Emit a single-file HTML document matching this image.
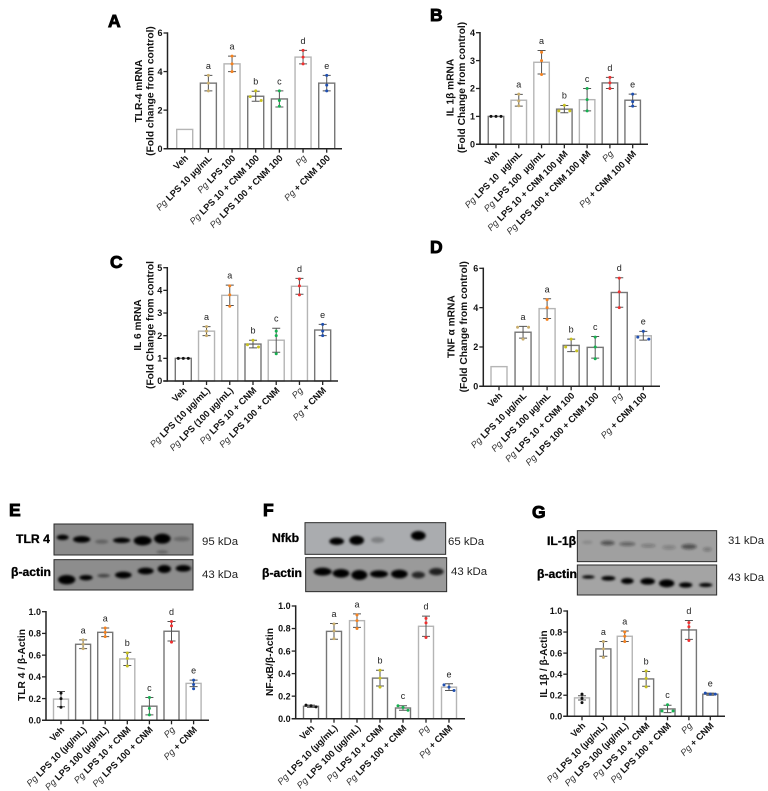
<!DOCTYPE html>
<html lang="en">
<head>
<meta charset="utf-8">
<title>mRNA and protein expression panels</title>
<style>
html,body{margin:0;padding:0;background:#fff;}
body{width:768px;height:791px;overflow:hidden;}
svg{display:block;font-family:"Liberation Sans",Arial,sans-serif;filter:blur(.3px);}
.panel-letter{font-size:17.5px;font-weight:700;fill:#000;stroke:#000;stroke-width:.9;}
.blot-label{font-size:12.2px;font-weight:700;fill:#000;stroke:#000;stroke-width:.3;}
.kda{font-size:11.4px;fill:#222;}
.tick-y{font-size:9px;font-weight:700;fill:#111;}
.tick-x{font-size:9.2px;font-weight:700;fill:#111;}
.tick-x .pg{font-style:italic;font-weight:400;fill:#333;}
.title{font-size:10.2px;font-weight:700;fill:#111;}
.sig{font-size:9px;fill:#222;}
</style>
</head>
<body>
<svg id="figure" width="768" height="791" viewBox="0 0 768 791" xmlns="http://www.w3.org/2000/svg">
<defs>
<filter id="b3" x="-50%" y="-80%" width="200%" height="260%"><feGaussianBlur stdDeviation="4"/></filter>
</defs>
<rect width="768" height="791" fill="#fff"/>

<text class="panel-letter" x="108" y="27">A</text>
<text class="panel-letter" x="430" y="21">B</text>
<text class="panel-letter" x="110" y="268">C</text>
<text class="panel-letter" x="430" y="253">D</text>
<text class="panel-letter" x="9" y="516">E</text>
<text class="panel-letter" x="263" y="516">F</text>
<text class="panel-letter" x="532" y="518">G</text>

<!-- Western blot E -->
<g transform="translate(0,490) scale(.33333)">
  <rect x="162" y="102" width="417" height="93" fill="#8b8b8b" stroke="#2a2a2a" stroke-width="3"/>
  <g fill="#060606" filter="url(#b3)">
    <ellipse cx="188" cy="142" rx="18" ry="8"/><ellipse cx="245" cy="148" rx="26" ry="10"/>
    <ellipse cx="305" cy="155" rx="20" ry="6" opacity=".3"/><ellipse cx="365" cy="151" rx="26" ry="8"/>
    <ellipse cx="428" cy="152" rx="27" ry="14"/><ellipse cx="487" cy="146" rx="25" ry="15"/>
    <ellipse cx="545" cy="147" rx="25" ry="7" opacity=".25"/><ellipse cx="487" cy="186" rx="18" ry="5" opacity=".3"/>
  </g>
  <rect x="162" y="209" width="417" height="91" fill="#8d8d8d" stroke="#2a2a2a" stroke-width="3"/>
  <g fill="#060606" filter="url(#b3)">
    <ellipse cx="200" cy="269" rx="26" ry="14"/><ellipse cx="258" cy="263" rx="20" ry="8"/>
    <ellipse cx="311" cy="257" rx="19" ry="5" opacity=".55"/><ellipse cx="370" cy="255" rx="25" ry="10"/>
    <ellipse cx="437" cy="243" rx="24" ry="10"/><ellipse cx="493" cy="237" rx="20" ry="12"/>
    <ellipse cx="550" cy="235" rx="23" ry="10"/>
  </g>
</g>
<text class="blot-label" x="16" y="543">TLR 4</text>
<text class="blot-label" x="11" y="576">β-actin</text>
<text class="kda" x="202" y="545">95 kDa</text>
<text class="kda" x="202" y="578">43 kDa</text>

<!-- Western blot F -->
<g transform="translate(255,490) scale(.33333)">
  <rect x="150" y="98" width="422" height="95" fill="#aaacaf" stroke="#2a2a2a" stroke-width="3"/>
  <g fill="#060606" filter="url(#b3)">
    <ellipse cx="245" cy="154" rx="22" ry="11"/><ellipse cx="305" cy="151" rx="22" ry="14"/>
    <ellipse cx="368" cy="150" rx="20" ry="9" opacity=".25"/><ellipse cx="490" cy="137" rx="22" ry="14"/>
  </g>
  <rect x="152" y="203" width="423" height="102" fill="#9a9a9a" stroke="#2a2a2a" stroke-width="3"/>
  <g fill="#060606" filter="url(#b3)">
    <ellipse cx="203" cy="245" rx="27" ry="12"/><ellipse cx="258" cy="250" rx="25" ry="13"/>
    <ellipse cx="313" cy="255" rx="24" ry="15"/><ellipse cx="372" cy="252" rx="27" ry="11"/>
    <ellipse cx="433" cy="252" rx="25" ry="13"/><ellipse cx="490" cy="255" rx="20" ry="10" opacity=".75"/>
    <ellipse cx="544" cy="245" rx="22" ry="11" opacity=".8"/>
  </g>
</g>
<text class="blot-label" x="272" y="542">Nfkb</text>
<text class="blot-label" x="262" y="577">β-actin</text>
<text class="kda" x="448" y="545">65 kDa</text>
<text class="kda" x="451" y="575">43 kDa</text>

<!-- Western blot G -->
<g transform="translate(510,490) scale(.33333)">
  <rect x="202" y="122" width="418" height="93" fill="#a0a0a0" stroke="#2a2a2a" stroke-width="3"/>
  <g fill="#1a1a1a" filter="url(#b3)">
    <ellipse cx="232" cy="157" rx="16" ry="5" opacity=".15"/><ellipse cx="293" cy="159" rx="21" ry="7" opacity=".55"/>
    <ellipse cx="352" cy="162" rx="24" ry="6" opacity=".45"/><ellipse cx="415" cy="167" rx="22" ry="5" opacity=".3"/>
    <ellipse cx="477" cy="172" rx="20" ry="6" opacity=".25"/><ellipse cx="537" cy="170" rx="23" ry="8" opacity=".55"/>
    <ellipse cx="592" cy="178" rx="13" ry="6" opacity=".3"/>
  </g>
  <rect x="202" y="225" width="418" height="90" fill="#a4a4a4" stroke="#2a2a2a" stroke-width="3"/>
  <g fill="#060606" filter="url(#b3)">
    <ellipse cx="235" cy="261" rx="19" ry="5"/><ellipse cx="295" cy="265" rx="21" ry="7"/>
    <ellipse cx="352" cy="273" rx="19" ry="9"/><ellipse cx="413" cy="274" rx="22" ry="10"/>
    <ellipse cx="470" cy="280" rx="23" ry="12"/><ellipse cx="527" cy="285" rx="20" ry="8"/>
    <ellipse cx="587" cy="285" rx="20" ry="6"/>
  </g>
</g>
<text class="blot-label" x="547" y="545">IL-1β</text>
<text class="blot-label" x="537" y="578">β-actin</text>
<text class="kda" x="728" y="544">31 kDa</text>
<text class="kda" x="728" y="581">43 kDa</text>

<g id="charts"></g>
</svg>

<script>
// ---- shared ----
const significanceLetters = ['', 'a', 'a', 'b', 'c', 'd', 'e'];
const groupColors = ['#111111', '#c9ae6e', '#f58220', '#c8c020', '#16b050', '#f03030', '#1f4fb0'];

// ---- panel A ----
const categoriesA = ['Veh', 'Pg LPS 10 µg/mL', 'Pg LPS 100', 'Pg LPS 10 + CNM 100', 'Pg LPS 100 + CNM 100', 'Pg', 'Pg + CNM 100'];
const ticksA = [0, 2, 4, 6];
const meansA = [1, 3.4, 4.4, 2.72, 2.58, 4.75, 3.4];
const errorsA = [0, 0.4, 0.4, 0.26, 0.42, 0.35, 0.4];
const pointsA = [[], [3.8, 3.4, 3.0], [4.8, 4.4, 4.0], [3.0, 2.7, 2.5], [3.0, 2.5, 2.2], [5.1, 4.75, 4.4], [3.8, 3.3, 3.0]];

// ---- panel B ----
const categoriesB = ['Veh', 'Pg LPS 10  µg/mL', 'Pg LPS 100  µg/mL', 'Pg LPS 10 + CNM 100 µM', 'Pg LPS 100 + CNM 100 µM', 'Pg', 'Pg + CNM 100 µM'];
const ticksB = [0, 1, 2, 3, 4];
const meansB = [1, 1.58, 2.94, 1.26, 1.6, 2.2, 1.58];
const errorsB = [0, 0.21, 0.42, 0.13, 0.4, 0.2, 0.22];
const pointsB = [[1, 1, 1], [1.8, 1.55, 1.38], [3.3, 3.0, 2.5], [1.4, 1.2, 1.2], [2.0, 1.6, 1.2], [2.4, 2.2, 2.0], [1.8, 1.53, 1.37]];

// ---- panel C ----
const categoriesC = ['Veh', 'Pg LPS (10 µg/mL)', 'Pg LPS (100 µg/mL)', 'Pg LPS 10 + CNM', 'Pg LPS 100 + CNM', 'Pg', 'Pg + CNM'];
const ticksC = [0, 1, 2, 3, 4, 5];
const meansC = [1, 2.2, 3.78, 1.63, 1.8, 4.18, 2.25];
const errorsC = [0, 0.2, 0.45, 0.17, 0.53, 0.35, 0.25];
const pointsC = [[1, 1, 1], [2.4, 2.2, 2.0], [4.2, 3.8, 3.3], [1.8, 1.6, 1.5], [2.2, 2.0, 1.2], [4.5, 4.2, 3.8], [2.5, 2.2, 2.0]];

// ---- panel D ----
const categoriesD = ['Veh', 'Pg LPS 10 µg/mL', 'Pg LPS 100 µg/mL', 'Pg LPS 10 + CNM 100', 'Pg LPS 100 + CNM 100', 'Pg', 'Pg + CNM 100'];
const ticksD = [0, 2, 4, 6];
const meansD = [1, 2.75, 3.95, 2.08, 1.98, 4.77, 2.57];
const errorsD = [0, 0.3, 0.5, 0.32, 0.55, 0.75, 0.22];
const pointsD = [[], [3.0, 3.0, 2.4], [4.4, 4.0, 3.4], [2.4, 2.0, 1.8], [2.5, 2.0, 1.4], [5.5, 4.8, 4.0], [2.8, 2.5, 2.4]];

// ---- panels E, F, G ----
const categoriesBlot = ['Veh', 'Pg LPS 10 (µg/mL)', 'Pg LPS 100 (µg/mL)', 'Pg LPS 10 + CNM', 'Pg LPS 100 + CNM', 'Pg', 'Pg + CNM'];
const ticksBlot = [0, 0.2, 0.4, 0.6, 0.8, 1];

const meansE = [0.195, 0.70, 0.81, 0.565, 0.13, 0.82, 0.34];
const errorsE = [0.07, 0.04, 0.04, 0.06, 0.08, 0.09, 0.03];
const pointsE = [[0.25, 0.2, 0.12], [0.74, 0.7, 0.66], [0.85, 0.81, 0.77], [0.62, 0.57, 0.5], [0.21, 0.11, 0.05], [0.91, 0.87, 0.72], [0.37, 0.33, 0.29]];

const meansF = [0.11, 0.775, 0.87, 0.36, 0.095, 0.82, 0.28];
const errorsF = [0.01, 0.07, 0.06, 0.07, 0.02, 0.09, 0.03];
const pointsF = [[0.12, 0.115, 0.105], [0.84, 0.78, 0.71], [0.92, 0.87, 0.8], [0.43, 0.36, 0.28], [0.115, 0.1, 0.075], [0.89, 0.85, 0.72], [0.3, 0.28, 0.25]];

const meansG = [0.175, 0.64, 0.76, 0.355, 0.07, 0.82, 0.21];
const errorsG = [0.02, 0.07, 0.05, 0.07, 0.035, 0.09, 0.01];
const pointsG = [[0.21, 0.17, 0.13], [0.71, 0.64, 0.56], [0.8, 0.76, 0.71], [0.43, 0.36, 0.28], [0.11, 0.05, 0.05], [0.89, 0.85, 0.72], [0.22, 0.21, 0.21]];

const NS = 'http://www.w3.org/2000/svg';
const root = document.getElementById('charts');

function make(parent, tag, attrs) {
  const node = document.createElementNS(NS, tag);
  for (const key in attrs) node.setAttribute(key, attrs[key]);
  parent.appendChild(node);
  return node;
}

function swarmOffsets(values, yScale) {
  const order = values.map((v, i) => i).sort((a, b) => values[b] - values[a]);
  const offsets = values.map(() => 0);
  let cluster = [];
  const flush = () => {
    if (cluster.length > 1) {
      cluster.forEach((idx, k) => {
        offsets[idx] = (k - (cluster.length - 1) / 2) * (cluster.length === 2 ? 11 : 5);
      });
    }
    cluster = [];
  };
  order.forEach(idx => {
    if (cluster.length && Math.abs(yScale(values[idx]) - yScale(values[cluster[cluster.length - 1]])) >= 4) flush();
    cluster.push(idx);
  });
  flush();
  return offsets;
}

function drawPanel(p) {
  const key = p.key;
  const yScale = v => p.y0 + (p.y1 - p.y0) * (v - p.ticks[0]) / (p.ticks[p.ticks.length - 1] - p.ticks[0]);
  const xScale = i => p.cx0 + i * p.step;

  const g = make(root, 'g', {});
  
  

  // bars
  p.means.forEach((m, i) => {
    const top = yScale(m);
    const bar = make(g, 'rect', {
      x: xScale(i) - p.barW / 2, y: top, width: p.barW, height: p.y0 - top,
      fill: '#fff', stroke: p.lightBars.includes(i) ? '#b5b5b5' : '#767676', 'stroke-width': 1.4
    });
    
    
  });

  // error bars, points and significance letters
  p.means.forEach((m, i) => {
    const cx = xScale(i);
    const err = p.errors[i];
    if (err > 0) {
      const eb = make(g, 'path', {
        d: 'M' + cx + ' ' + yScale(m + err) + 'V' + yScale(m - err) +
           'M' + (cx - 4) + ' ' + yScale(m + err) + 'H' + (cx + 4) +
           'M' + (cx - 4) + ' ' + yScale(m - err) + 'H' + (cx + 4),
        fill: 'none', stroke: '#555', 'stroke-width': 1
      });
      
      
    }
    const pts = p.points[i];
    const offs = swarmOffsets(pts, yScale);
    pts.forEach((v, k) => {
      const dot = make(g, 'circle', { cx: cx + offs[k], cy: yScale(v), r: 1.5, fill: groupColors[i] });
      
      
    });
    if (significanceLetters[i]) {
      const topVal = Math.max(m + err, pts.length ? Math.max.apply(null, pts) : m);
      const lab = make(g, 'text', { class: 'sig', x: cx, y: yScale(topVal) - 6.5, 'text-anchor': 'middle' });
      lab.textContent = significanceLetters[i];
      
      
    }
  });

  // axes
  const yAxis = make(g, 'path', { d: 'M' + p.axisX + ' ' + (p.y1 - 0.7) + 'V' + (p.y0 + 0.7), stroke: '#222', 'stroke-width': 1.5, fill: 'none' });
  
  
  const xAxis = make(g, 'path', { d: 'M' + (p.axisX - 4) + ' ' + p.y0 + 'H' + p.axisEnd, stroke: '#222', 'stroke-width': 1.5, fill: 'none' });
  
  

  p.ticks.forEach(t => {
    const y = yScale(t);
    const tick = make(g, 'line', { x1: p.axisX - 4, x2: p.axisX, y1: y, y2: y, stroke: '#222', 'stroke-width': 1.3 });
    
    
    const lab = make(g, 'text', { class: 'tick-y', x: p.axisX - 5, y: y + 3.2, 'text-anchor': 'end' });
    lab.textContent = p.tickDigits ? t.toFixed(p.tickDigits) : String(t);
    
    
  });

  p.categories.forEach((c, i) => {
    const cx = xScale(i);
    const tick = make(g, 'line', { x1: cx, x2: cx, y1: p.y0, y2: p.y0 + 4, stroke: '#222', 'stroke-width': 1.3 });
    
    
    const ax = cx + 4, ay = p.y0 + 10;
    const lab = make(g, 'text', {
      class: 'tick-x', x: ax, y: ay, 'text-anchor': 'end',
      transform: 'rotate(-45 ' + ax + ' ' + ay + ')'
    });
    lab.setAttribute('xml:space', 'preserve');
    lab.style.whiteSpace = 'pre';
    
    
    if (c.indexOf('Pg') === 0) {
      const it = make(lab, 'tspan', { class: 'pg' });
      it.textContent = 'Pg';
      const rest = make(lab, 'tspan', {});
      rest.textContent = c.slice(2);
    } else {
      lab.textContent = c;
    }
  });

  // y axis titles
  p.titles.forEach((t, i) => {
    const x = p.titleX[i] + 3.5;
    const title = make(g, 'text', {
      class: 'title', x: x, y: p.titleY, 'text-anchor': 'middle',
      transform: 'rotate(-90 ' + x + ' ' + p.titleY + ')'
    });
    title.textContent = t;
    
    
  });
}

drawPanel({ key: 'a', categories: categoriesA, ticks: ticksA, means: meansA, errors: errorsA, points: pointsA,
  axisX: 167.5, axisEnd: 342, y0: 148.7, y1: 33, cx0: 184.7, step: 23.67, barW: 16, lightBars: [0, 2, 5],
  titles: ['TLR-4 mRNA', '(Fold change from control)'], titleX: [138.3, 150], titleY: 91 });

drawPanel({ key: 'b', categories: categoriesB, ticks: ticksB, means: meansB, errors: errorsB, points: pointsB,
  axisX: 480, axisEnd: 648, y0: 144.3, y1: 32.7, cx0: 496, step: 22.78, barW: 15.5, lightBars: [1, 2, 4],
  titles: ['IL 1β mRNA', '(Fold Change from control)'], titleX: [450, 461.7], titleY: 87.5 });

drawPanel({ key: 'c', categories: categoriesC, ticks: ticksC, means: meansC, errors: errorsC, points: pointsC,
  axisX: 167.3, axisEnd: 338, y0: 381, y1: 267.7, cx0: 183.3, step: 23.23, barW: 16, lightBars: [1, 2, 4, 5],
  titles: ['IL 6 mRNA', '(Fold Change from control'], titleX: [137.7, 150], titleY: 325 });

drawPanel({ key: 'd', categories: categoriesD, ticks: ticksD, means: meansD, errors: errorsD, points: pointsD,
  axisX: 483.3, axisEnd: 660, y0: 386.3, y1: 268.3, cx0: 499, step: 24.05, barW: 16, lightBars: [0, 2, 6],
  titles: ['TNF α mRNA', '(Fold Change from control)'], titleX: [451, 463.3], titleY: 326.7 });

drawPanel({ key: 'e', categories: categoriesBlot, ticks: ticksBlot, tickDigits: 1, means: meansE, errors: errorsE, points: pointsE,
  axisX: 46, axisEnd: 209, y0: 720.3, y1: 611.7, cx0: 61, step: 22.1, barW: 15, lightBars: [0, 3, 6],
  titles: ['TLR 4 / β-Actin'], titleX: [21.7], titleY: 665 });

drawPanel({ key: 'f', categories: categoriesBlot, ticks: ticksBlot, tickDigits: 1, means: meansF, errors: errorsF, points: pointsF,
  axisX: 295.7, axisEnd: 465, y0: 718.7, y1: 606, cx0: 311, step: 23, barW: 15, lightBars: [2, 5, 6],
  titles: ['NF-κB/β-Actin'], titleX: [269.3], titleY: 662 });

drawPanel({ key: 'g', categories: categoriesBlot, ticks: ticksBlot, tickDigits: 1, means: meansG, errors: errorsG, points: pointsG,
  axisX: 567.3, axisEnd: 725, y0: 716.3, y1: 611, cx0: 582, step: 21.38, barW: 15, lightBars: [0, 2],
  titles: ['IL 1β / β-Actin'], titleX: [543.3], titleY: 664 });
</script>
</body>
</html>
